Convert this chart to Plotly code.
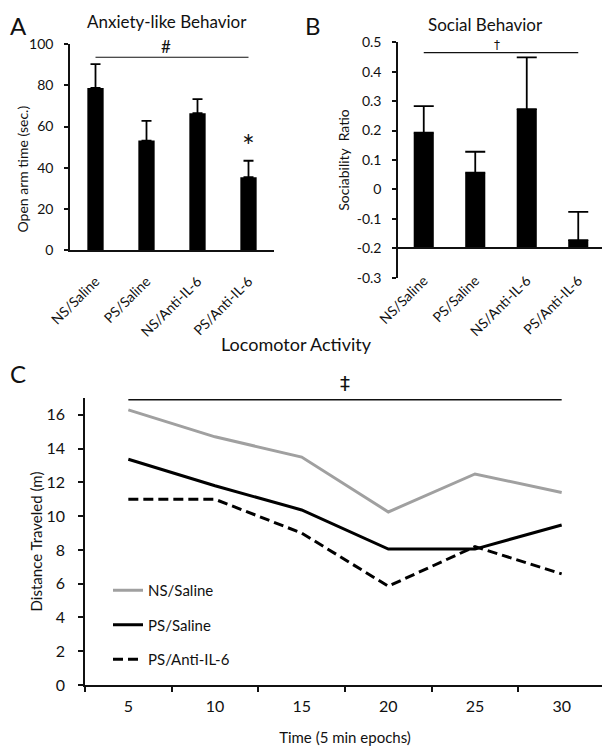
import plotly.graph_objects as go

# Panels A and B: treatment groups
groups = ['NS/Saline', 'PS/Saline', 'NS/Anti-IL-6', 'PS/Anti-IL-6']
open_arm_time = [78.8, 53.2, 66.5, 35.4]
open_arm_sem = [11.6, 9.6, 6.8, 8.0]
sociability = [0.193, 0.057, 0.273, -0.172]
sociability_sem = [0.090, 0.071, 0.176, 0.096]
soc_tickvals = [0.5, 0.4, 0.3, 0.2, 0.1, 0, -0.1, -0.2, -0.3]
soc_ticktext = ['0.5', '0.4', '0.3', '0.2', '0.1', '0', '-0.1', '-0.2', '-0.3']

# Panel C: locomotor activity per 5 min epoch
epochs = ['5', '10', '15', '20', '25', '30']
ns_saline = [16.3, 14.7, 13.5, 10.25, 12.5, 11.4]
ps_saline = [13.37, 11.8, 10.37, 8.05, 8.05, 9.48]
ps_anti_il6 = [11.0, 11.0, 9.0, 5.85, 8.2, 6.58]

FONT = 'Lato'
SYM_FONT = 'DejaVu Sans'
INK = '#111111'
soc_base = -0.2  # bars in B grow from the -0.2 axis line

# the page body has an 8px margin, so the figure is a bit smaller and
# page pixel positions are converted to paper fractions here
W, H, OFF = 602, 742, 8


def fx(p):
    return (p - OFF) / W


def fy(p):
    return 1 - (p - OFF) / H


def axis(**kw):
    d = dict(showline=True, linecolor=INK, linewidth=1.5, showgrid=False, zeroline=False,
             ticks='outside', ticklen=4, tickwidth=1.5, tickcolor=INK, automargin=False,
             tickfont=dict(family=FONT, size=14, color=INK))
    d.update(kw)
    return d


fig = go.Figure()

# A - open arm time
fig.add_trace(go.Bar(
    x=groups, y=open_arm_time, width=0.32, marker=dict(color='black', line=dict(width=0)),
    error_y=dict(type='data', array=open_arm_sem, arrayminus=[0] * 4, symmetric=False,
                 color='black', thickness=1.8, width=5),
    xaxis='x', yaxis='y', showlegend=False))

# B - sociability ratio
fig.add_trace(go.Bar(
    x=groups, y=[v - soc_base for v in sociability], base=soc_base, width=0.39,
    marker=dict(color='black', line=dict(width=0)),
    error_y=dict(type='data', array=sociability_sem, arrayminus=[0] * 4, symmetric=False,
                 color='black', thickness=1.8, width=10),
    xaxis='x2', yaxis='y2', showlegend=False))

# C - distance traveled
fig.add_trace(go.Scatter(x=epochs, y=ns_saline, mode='lines', name='NS/Saline',
                         line=dict(color='#a0a0a0', width=3), legendgroup='a',
                         xaxis='x3', yaxis='y3'))
fig.add_trace(go.Scatter(x=epochs, y=ps_saline, mode='lines', name='PS/Saline',
                         line=dict(color='black', width=3), legendgroup='b',
                         xaxis='x3', yaxis='y3'))
fig.add_trace(go.Scatter(x=epochs, y=ps_anti_il6, mode='lines', name='PS/Anti-IL-6',
                         line=dict(color='black', width=3, dash='10px,5px'), legendgroup='c',
                         xaxis='x3', yaxis='y3'))

fig.update_layout(
    width=W, height=H, margin=dict(l=0, r=0, t=0, b=0, pad=0),
    paper_bgcolor='white', plot_bgcolor='white',
    font=dict(family=FONT, color=INK),
    xaxis=axis(domain=[fx(70), fx(274)], anchor='y', ticks='', tickangle=-45,
               ticklabelstandoff=16),
    yaxis=axis(domain=[fy(250), fy(44.3)], anchor='x', range=[0, 100], dtick=20,
               ticklabelstandoff=8),
    xaxis2=axis(domain=[fx(398), fx(604)], anchor='free', position=fy(248.3), ticks='',
                tickangle=-45, ticklabelstandoff=18),
    yaxis2=axis(domain=[fy(277.7), fy(42.3)], anchor='x2', range=[-0.3, 0.5],
                tickvals=soc_tickvals, ticktext=soc_ticktext, ticklabelstandoff=8,
                title=dict(text='Sociability  Ratio', font=dict(size=14, color=INK), standoff=4)),
    xaxis3=axis(domain=[fx(85), fx(605)], anchor='y3', type='category', tickson='boundaries',
                range=[-0.5, 5.5], ticklen=5, tickfont=dict(family=FONT, size=16, color=INK),
                ticklabelstandoff=6,
                title=dict(text='Time (5 min epochs)', font=dict(size=15, color=INK), standoff=19)),
    yaxis3=axis(domain=[fy(685), fy(398)], anchor='x3', range=[0, 17], dtick=2, ticklen=5,
                tickfont=dict(family=FONT, size=16, color=INK), ticklabelstandoff=10,
                title=dict(text='Distance Traveled (m)', font=dict(size=15, color=INK), standoff=0)),
    legend=dict(x=fx(108), y=fy(574), xanchor='left', yanchor='top', bgcolor='rgba(0,0,0,0)',
                font=dict(family=FONT, size=15, color=INK), tracegroupgap=12),
)

# significance bars
fig.add_shape(type='line', xref='x', yref='y', x0=0, x1=3, y0=93.7, y1=93.7,
              line=dict(color=INK, width=1.2))
fig.add_shape(type='line', xref='x2', yref='y2', x0=0, x1=3, y0=0.465, y1=0.465,
              line=dict(color=INK, width=1.2))
fig.add_shape(type='line', xref='x3', yref='y3', x0=0, x1=5, y0=16.89, y1=16.89,
              line=dict(color=INK, width=1.5))

notes = [
    dict(text='A', x=18, y=25, size=24, family=FONT),
    dict(text='B', x=313, y=25, size=24, family=FONT),
    dict(text='C', x=18, y=373, size=24, family=FONT),
    dict(text='Anxiety-like Behavior', x=167, y=22, size=17, family=FONT),
    dict(text='Social Behavior', x=485, y=24, size=17, family=FONT),
    dict(text='Locomotor Activity', x=296, y=344, size=18, family=FONT),
    dict(text='#', x=166, y=47, size=17, family=FONT),
    dict(text='*', x=248, y=145, size=30, family=FONT),
    dict(text='†', x=497, y=45, size=12, family=SYM_FONT),
    dict(text='‡', x=345, y=383, size=20, family=SYM_FONT),
]
for n in notes:
    fig.add_annotation(text=n['text'], x=fx(n['x']), y=fy(n['y']), xref='paper', yref='paper',
                       showarrow=False, xanchor='center', yanchor='middle',
                       font=dict(family=n['family'], size=n['size'], color=INK))

fig.add_annotation(text='Open arm time (sec.)', x=fx(21.5), y=fy(169), xref='paper',
                   yref='paper', textangle=-90, showarrow=False,
                   xanchor='center', yanchor='middle',
                   font=dict(family=FONT, size=14, color=INK))

fig.write_html("out.html", config={'displayModeBar': False})
